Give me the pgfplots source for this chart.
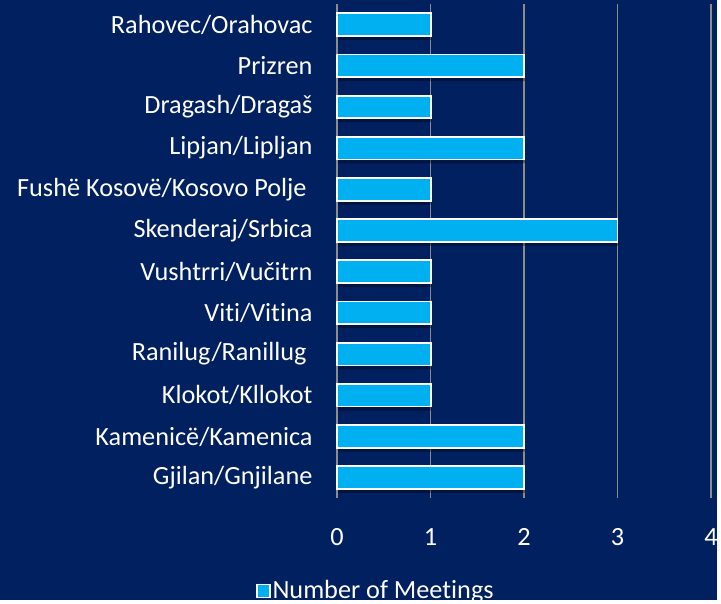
\documentclass[border=0pt]{standalone}
\usepackage{pgfplots}
\pgfplotsset{compat=1.18}
\usepackage{fontspec}
\setmainfont{Carlito}[Ligatures=NoCommon]
\usetikzlibrary{shadows}

\definecolor{navybg}{HTML}{002060}
\definecolor{barcyan}{HTML}{00B0F0}
\definecolor{gridgray}{HTML}{8C8C8C}

\begin{document}
\begin{tikzpicture}[x=1bp,y=1bp]
\fill[navybg] (0,0) rectangle (721,603);
\begin{axis}[
    at={(339bp,102bp)}, anchor=south west,
    scale only axis,
    width=376bp, height=497bp,
    xbar,
    xmin=0, xmax=4,
    ymin=0.5, ymax=12.5,
    xtick={0,1,2,3,4},
    ytick={1,...,12},
    yticklabels={Gjilan/Gnjilane, Kamenicë/Kamenica, Klokot/Kllokot, Ranilug/Ranillug\phantom{ }, Viti/Vitina, Vushtrri/Vučitrn, Skenderaj/Srbica, Fushë Kosovë/Kosovo Polje\phantom{ }, Lipjan/Lipljan, Dragash/Dragaš, Prizren, Rahovec/Orahovac},
    /pgf/number format/assume math mode=true,
    tick style={draw=none},
    axis line style={draw=none},
    xmajorgrids,
    major grid style={gridgray, line width=1.5bp},
    extra x ticks={0},
    extra x tick labels={},
    extra x tick style={grid=major},
    ticklabel style={font=\fontsize{26.5}{30}\selectfont, text=white},
    yticklabel style={xshift=-17bp},
    xticklabel style={yshift=-27bp},
    bar width=0.55,
    legend style={at={(0.104,-0.186)}, anchor=center, draw=none, fill=none,
        font=\fontsize{26.5}{30}\selectfont, text=white, legend columns=1},
    legend image code/.code={\draw[fill=barcyan, draw=white, line width=1.2bp] (0bp,-7bp) rectangle (13bp,6bp);},
    clip=false,
]
\addlegendimage{fill=barcyan, draw=white}
\addlegendentry{Number of Meetings}
\addplot[forget plot, bar shift=0pt, fill=barcyan, draw=white, line width=1.8bp,
    drop shadow={opacity=0.35, fill=black, draw=none, shadow xshift=1bp, shadow yshift=-4bp}] coordinates {
    (2,1) (2,2) (1,3) (1,4) (1,5) (1,6) (3,7) (1,8) (2,9) (1,10) (2,11) (1,12)
};
\end{axis}
\end{tikzpicture}
\end{document}
